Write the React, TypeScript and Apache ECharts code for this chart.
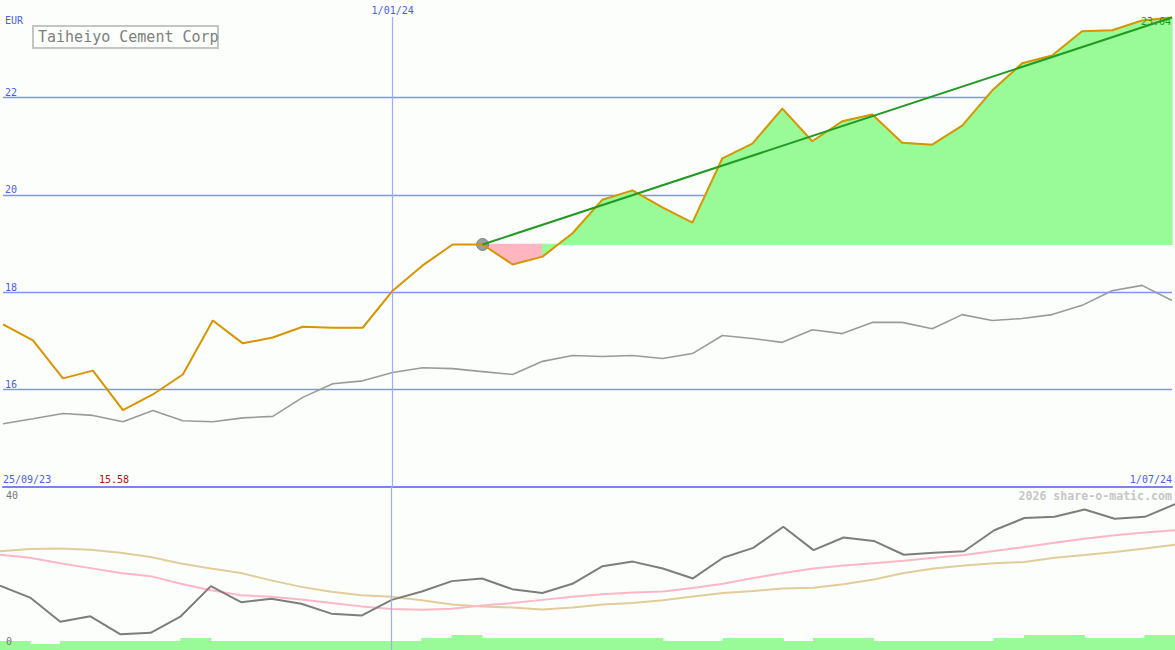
import React, { useEffect, useRef } from "react";
import * as echarts from "echarts";

// ---- Data (weekly points, 25/09/23 .. 1/07/24) ----
const xStartLabel = "25/09/23";
const xEndLabel = "1/07/24";
const yearMarkIndex = 13;
const yearMarkLabel = "1/01/24";
const companyName = "Taiheiyo Cement Corp";
const currency = "EUR";
const watermark = "2026 share-o-matic.com";

const priceValues = [
  17.34, 17.01, 16.23, 16.39, 15.58, 15.9, 16.31, 17.42, 16.95, 17.07,
  17.29, 17.27, 17.27, 18.03, 18.55, 18.98, 18.98, 18.57, 18.73, 19.21,
  19.9, 20.09, 19.74, 19.43, 20.75, 21.05, 21.77, 21.1, 21.51, 21.65,
  21.07, 21.03, 21.42, 22.14, 22.7, 22.86, 23.36, 23.38, 23.58, 23.64,
];
const indexValues = [
  15.3, 15.4, 15.51, 15.47, 15.34, 15.57, 15.36, 15.34, 15.42, 15.45,
  15.84, 16.12, 16.18, 16.35, 16.45, 16.43, 16.37, 16.31, 16.58, 16.7,
  16.68, 16.7, 16.64, 16.74, 17.11, 17.05, 16.97, 17.23, 17.15, 17.38,
  17.38, 17.25, 17.54, 17.42, 17.46, 17.54, 17.73, 18.03, 18.14, 17.83,
];
const trendStartIndex = 16;
const trendEndIndex = 39;
const minPriceLabel = "15.58";
const lastPriceLabel = "23.64";

const oscValues = [
  16.8, 13.7, 7.4, 8.8, 4.1, 4.5, 8.8, 16.7, 12.5, 13.4,
  12.1, 9.5, 9.0, 13.1, 15.3, 18.0, 18.7, 15.9, 14.9, 17.3,
  21.9, 23.1, 21.3, 18.7, 24.1, 26.7, 32.2, 26.1, 29.4, 28.5,
  24.9, 25.4, 25.8, 31.3, 34.5, 34.8, 36.7, 34.3, 34.8, 38.1,
];
const pinkValues = [
  24.9, 24.1, 22.7, 21.4, 20.1, 19.3, 17.3, 15.6, 14.3, 13.9,
  13.2, 12.3, 11.4, 10.7, 10.5, 10.8, 11.6, 12.3, 13.1, 13.9,
  14.6, 15.0, 15.3, 16.2, 17.3, 18.8, 20.1, 21.3, 22.1, 22.7,
  23.3, 24.1, 24.8, 25.9, 26.9, 28.0, 29.1, 30.0, 30.7, 31.3,
];
const tanValues = [
  25.8, 26.4, 26.5, 26.2, 25.4, 24.3, 22.6, 21.3, 20.1, 18.2,
  16.5, 15.2, 14.3, 13.9, 13.0, 11.9, 11.4, 11.1, 10.6, 11.1,
  11.9, 12.3, 13.0, 14.0, 14.9, 15.4, 16.1, 16.3, 17.2, 18.4,
  20.1, 21.3, 22.1, 22.7, 23.0, 24.1, 24.8, 25.6, 26.5, 27.5,
];
const volumeValues = [
  3, 2, 3, 3, 3, 3, 4, 3, 3, 3, 3, 3, 3, 3, 4, 5, 4, 4, 4, 4,
  4, 4, 3, 3, 4, 4, 3, 4, 4, 3, 3, 3, 3, 4, 5, 5, 4, 4, 5,
];

// ---- Styles ----
const BG = "#fbfefb";
const BLUE_TEXT = "#4b5cf0";
const GRID_BLUE = "#8193fa";
const VLINE_BLUE = "#9eabfb";
const SEP_BLUE = "#7985ec";
const MONO = "'DejaVu Sans Mono', 'Liberation Mono', monospace";
const GREEN_FILL = "#98fb98";
const PINK_FILL = "#ffb6c1";
const ORANGE = "#d99400";
const TREND_GREEN = "#229922";

function buildOption(): any {
  const base = priceValues[trendStartIndex];
  const segs: number[][] = [];
  for (let i = trendStartIndex; i < priceValues.length - 1; i++) {
    segs.push([i, priceValues[i], priceValues[i + 1]]);
  }
  const vol = volumeValues.map((_, i) => String(i));

  return {
    animation: false,
    backgroundColor: BG,
    grid: [
      { left: 0, right: 0, top: 0, height: 487 },
      { left: 0, right: 0, top: 487, height: 163 },
    ],
    xAxis: [
      {
        gridIndex: 0,
        type: "value",
        min: 0,
        max: 39,
        interval: 39,
        axisLine: { show: true, onZero: false, lineStyle: { color: SEP_BLUE, width: 2 } },
        axisTick: { show: false },
        splitLine: { show: false },
        axisLabel: {
          inside: true,
          margin: 3,
          fontSize: 10,
          fontFamily: MONO,
          color: BLUE_TEXT,
          verticalAlign: "bottom",
          alignMinLabel: "left",
          alignMaxLabel: "right",
          formatter: (v: number) => (v === 0 ? xStartLabel : xEndLabel),
        },
      },
      { gridIndex: 1, type: "value", min: 0, max: 39, show: false },
      { gridIndex: 1, type: "category", data: vol, show: false, boundaryGap: true },
    ],
    yAxis: [
      {
        gridIndex: 0,
        type: "value",
        min: 14,
        max: 24,
        interval: 2,
        axisLine: { show: false },
        axisTick: { show: false },
        splitLine: {
          show: true,
          lineStyle: {
            color: ["rgba(0,0,0,0)", GRID_BLUE, GRID_BLUE, GRID_BLUE, GRID_BLUE, "rgba(0,0,0,0)"],
            width: 1.3,
          },
        },
        axisLabel: {
          inside: true,
          margin: 2,
          verticalAlign: "bottom",
          fontSize: 10,
          fontFamily: MONO,
          color: BLUE_TEXT,
          formatter: (v: number) => (v === 14 || v === 24 ? "" : String(v)),
        },
      },
      { gridIndex: 1, type: "value", min: 0, max: 42.6, show: false },
      { gridIndex: 1, type: "value", min: 0, max: 54.3, show: false },
    ],
    graphic: [
      {
        type: "text",
        left: 5,
        top: 15,
        style: { text: currency, fill: BLUE_TEXT, font: `10px ${MONO}` },
        z: 100,
      },
      {
        type: "rect",
        shape: { x: 33, y: 26, width: 185, height: 22 },
        style: { fill: BG, stroke: "#c4c4c4", lineWidth: 2 },
        z: 100,
      },
      {
        type: "text",
        x: 38,
        y: 37,
        style: {
          text: companyName,
          fill: "#808080",
          font: `15px ${MONO}`,
          verticalAlign: "middle",
        },
        z: 101,
      },
      {
        type: "text",
        x: 1171,
        y: 21,
        style: {
          text: lastPriceLabel,
          fill: TREND_GREEN,
          font: `10px ${MONO}`,
          align: "right",
          verticalAlign: "middle",
        },
        z: 101,
      },
      {
        type: "text",
        x: 99,
        y: 479,
        style: {
          text: minPriceLabel,
          fill: "#a31515",
          font: `10px ${MONO}`,
          verticalAlign: "middle",
        },
        z: 101,
      },
      {
        type: "text",
        x: 1172,
        y: 496,
        style: {
          text: watermark,
          fill: "#c6c6c6",
          font: `bold 11.6px ${MONO}`,
          align: "right",
          verticalAlign: "middle",
        },
        z: 101,
      },
      {
        type: "text",
        x: 6,
        y: 495,
        style: { text: "40", fill: "#777777", font: `10px ${MONO}`, verticalAlign: "middle" },
        z: 101,
      },
      {
        type: "text",
        x: 6,
        y: 641,
        style: { text: "0", fill: "#777777", font: `10px ${MONO}`, verticalAlign: "middle" },
        z: 101,
      },
    ],
    series: [
      // gain / loss fill since the start of the trend
      {
        type: "custom",
        xAxisIndex: 0,
        yAxisIndex: 0,
        data: segs,
        encode: { x: 0, y: [1, 2] },
        silent: true,
        z: 1,
        renderItem: (params: any, api: any) => {
          const i = api.value(0);
          const a = api.value(1);
          const b = api.value(2);
          const col = b >= base ? GREEN_FILL : PINK_FILL;
          const pts = [
            api.coord([i, base]),
            api.coord([i, a]),
            api.coord([i + 1, b]),
            api.coord([i + 1, base]),
          ];
          return {
            type: "polygon",
            shape: { points: pts },
            style: { fill: col, stroke: col, lineWidth: 1.2 },
          };
        },
      },
      // vertical year marker (main panel)
      {
        type: "line",
        xAxisIndex: 0,
        yAxisIndex: 0,
        data: [],
        z: 2,
        markLine: {
          silent: true,
          symbol: ["none", "none"],
          lineStyle: { color: VLINE_BLUE, width: 1.2, type: "solid" },
          label: {
            show: true,
            position: "end",
            distance: 2,
            formatter: yearMarkLabel,
            color: BLUE_TEXT,
            fontSize: 10,
            fontFamily: MONO,
          },
          data: [[{ coord: [yearMarkIndex, 14] }, { coord: [yearMarkIndex, 23.65] }]],
        },
      },
      // comparison index
      {
        type: "line",
        xAxisIndex: 0,
        yAxisIndex: 0,
        data: indexValues.map((v, i) => [i, v]),
        symbol: "none",
        lineStyle: { color: "#9a9a9a", width: 1.6 },
        z: 3,
      },
      // trend start marker
      {
        type: "scatter",
        xAxisIndex: 0,
        yAxisIndex: 0,
        data: [[trendStartIndex, priceValues[trendStartIndex]]],
        symbolSize: 12,
        itemStyle: { color: "#858585", borderColor: "#6f6f6f", borderWidth: 1 },
        z: 4,
      },
      // price
      {
        type: "line",
        xAxisIndex: 0,
        yAxisIndex: 0,
        data: priceValues.map((v, i) => [i, v]),
        symbol: "none",
        lineStyle: { color: ORANGE, width: 2 },
        z: 5,
      },
      // trend line
      {
        type: "line",
        xAxisIndex: 0,
        yAxisIndex: 0,
        data: [
          [trendStartIndex, priceValues[trendStartIndex]],
          [trendEndIndex, priceValues[trendEndIndex]],
        ],
        symbol: "none",
        lineStyle: { color: TREND_GREEN, width: 2 },
        z: 6,
      },
      // vertical year marker (lower panel)
      {
        type: "line",
        xAxisIndex: 1,
        yAxisIndex: 1,
        data: [],
        z: 1,
        markLine: {
          silent: true,
          symbol: ["none", "none"],
          lineStyle: { color: VLINE_BLUE, width: 1.2, type: "solid" },
          label: { show: false },
          data: [{ xAxis: yearMarkIndex }],
        },
      },
      // volume
      {
        type: "bar",
        xAxisIndex: 2,
        yAxisIndex: 2,
        data: volumeValues,
        barWidth: "103%",
        barCategoryGap: "0%",
        itemStyle: { color: GREEN_FILL },
        z: 2,
      },
      {
        type: "line",
        xAxisIndex: 1,
        yAxisIndex: 1,
        data: tanValues.map((v, i) => [i, v]),
        symbol: "none",
        lineStyle: { color: "#e2cd9a", width: 2 },
        z: 3,
      },
      {
        type: "line",
        xAxisIndex: 1,
        yAxisIndex: 1,
        data: pinkValues.map((v, i) => [i, v]),
        symbol: "none",
        lineStyle: { color: "#ffb6c8", width: 2 },
        z: 3,
      },
      {
        type: "line",
        xAxisIndex: 1,
        yAxisIndex: 1,
        data: oscValues.map((v, i) => [i, v]),
        symbol: "none",
        lineStyle: { color: "#7d7d7d", width: 2 },
        z: 4,
      },
    ],
  };
}

export default function App() {
  const ref = useRef<HTMLDivElement>(null);
  useEffect(() => {
    if (!ref.current) return;
    const chart = echarts.init(ref.current, null, { renderer: "svg" });
    chart.setOption(buildOption());
    return () => chart.dispose();
  }, []);
  return (
    <div
      ref={ref}
      style={{ position: "fixed", left: 0, top: 0, width: 1175, height: 650, background: BG }}
    />
  );
}
